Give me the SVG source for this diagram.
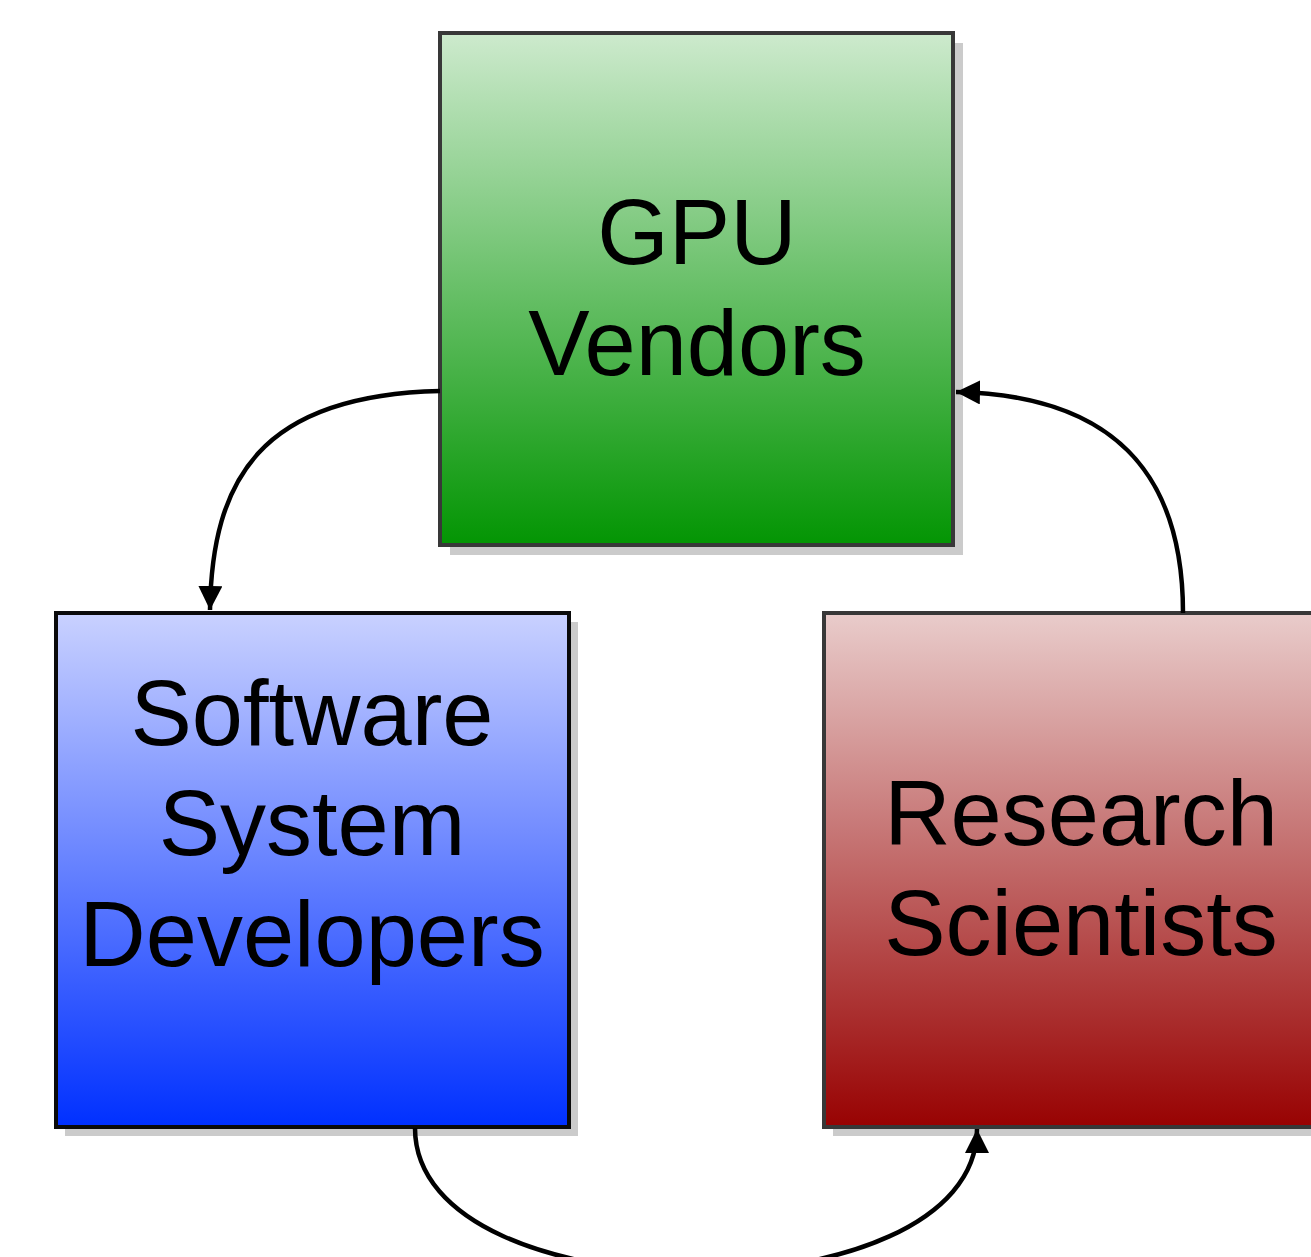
<svg xmlns="http://www.w3.org/2000/svg" width="1311" height="1257" viewBox="0 0 1311 1257">
  <style>
    .shadow { fill: #cbcbcb; }
    .box { stroke-width: 4; }
    .label { font-family: "Liberation Sans", Arial, sans-serif; font-size: 92px; fill: #000; text-anchor: middle; }
    .conn { fill: none; stroke: #000; stroke-width: 4.5; }
  </style>
  <defs>
    <linearGradient id="gGreen" x1="0" y1="0" x2="0" y2="1">
      <stop offset="0" stop-color="#cdeacd"/>
      <stop offset="1" stop-color="#039503"/>
    </linearGradient>
    <linearGradient id="gBlue" x1="0" y1="0" x2="0" y2="1">
      <stop offset="0" stop-color="#c9d1ff"/>
      <stop offset="1" stop-color="#0030ff"/>
    </linearGradient>
    <linearGradient id="gRed" x1="0" y1="0" x2="0" y2="1">
      <stop offset="0" stop-color="#e9cccb"/>
      <stop offset="1" stop-color="#980202"/>
    </linearGradient>
    <marker id="arrow" markerUnits="userSpaceOnUse" markerWidth="24" markerHeight="24" viewBox="0 0 24 24" refX="24" refY="12" orient="auto">
      <path d="M0,0 L24,12 L0,24 Z" fill="#000"/>
    </marker>
  </defs>

  <rect width="1311" height="1257" fill="#fff"/>

  <g id="gpu-vendors">
    <rect class="shadow" x="450" y="43" width="513" height="512"/>
    <rect class="box" x="440" y="33" width="513" height="512" fill="url(#gGreen)" stroke="#383838"/>
    <text class="label" x="697" y="264">GPU</text>
    <text class="label" x="697" y="375">Vendors</text>
  </g>

  <g id="software-system-developers">
    <rect class="shadow" x="65" y="622" width="513" height="514"/>
    <rect class="box" x="56" y="613" width="513" height="514" fill="url(#gBlue)" stroke="#0a0a0a"/>
    <text class="label" x="312" y="745">Software</text>
    <text class="label" x="312" y="855">System</text>
    <text class="label" x="312" y="966">Developers</text>
  </g>

  <g id="research-scientists">
    <rect class="shadow" x="833" y="622" width="513" height="514"/>
    <rect class="box" x="824" y="613" width="513" height="514" fill="url(#gRed)" stroke="#383838"/>
    <text class="label" x="1081" y="845">Research</text>
    <text class="label" x="1081" y="955">Scientists</text>
  </g>

  <g id="connectors">
    <path class="conn" d="M440,391 C260,395 212,480 210,610" marker-end="url(#arrow)"/>
    <path class="conn" d="M1183,613 C1183,470 1110,395 956,392" marker-end="url(#arrow)"/>
    <path class="conn" d="M415,1128 C415,1320 977,1320 977,1129" marker-end="url(#arrow)"/>
  </g>
</svg>
